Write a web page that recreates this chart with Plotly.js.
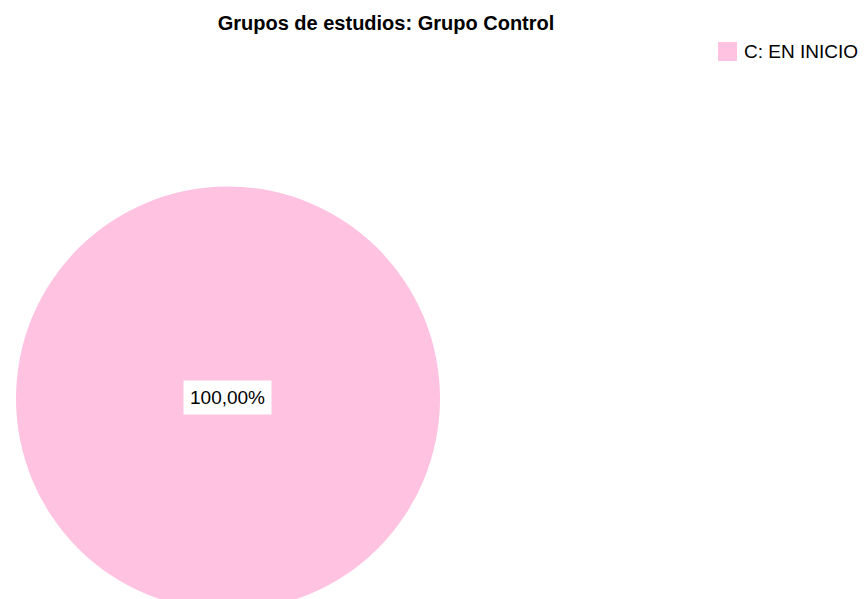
<!DOCTYPE html>
<html>
<head>
<meta charset="utf-8">
<script src="https://cdn.plot.ly/plotly-3.0.1.min.js"></script>
<style>
html, body { margin: 0; padding: 0; overflow: hidden; background: #ffffff; }
#chart { width: 865px; height: 620px; }
</style>
</head>
<body>
<div id="chart"></div>
<script>
const chartTitle = 'Grupos de estudios: Grupo Control';
const categories = ['C: EN INICIO'];
const values = [1];
const sliceColors = ['#FFC2E0'];

const W = 865, H = 620;
const cx = 228, cy = 398.5, r = 212;

const total = values.reduce((a, b) => a + b, 0);
const pctText = (values[0] / total * 100).toFixed(2).replace('.', ',') + '%';

const trace = {
  type: 'pie',
  labels: categories,
  values: values,
  marker: { colors: sliceColors, line: { width: 0 } },
  textinfo: 'none',
  hoverinfo: 'label+percent',
  sort: false,
  showlegend: false,
  domain: { x: [(cx - r) / W, (cx + r) / W], y: [(H - cy - r) / H, (H - cy + r) / H] }
};

// legend drawn as a layout shape + annotation so the swatch matches the original size
const legendShapes = categories.map((c, i) => ({
  type: 'rect', xref: 'paper', yref: 'paper',
  x0: 718 / W, x1: 737 / W,
  y0: (H - 61 - i * 24) / H, y1: (H - 42 - i * 24) / H,
  fillcolor: sliceColors[i], line: { width: 0 }
}));
const legendTexts = categories.map((c, i) => ({
  xref: 'paper', yref: 'paper',
  x: 742 / W, y: (H - 52 - i * 24) / H,
  xanchor: 'left', yanchor: 'middle',
  text: c, showarrow: false,
  font: { size: 19, color: '#000000' }
}));

const layout = {
  width: W,
  height: H,
  margin: { l: 0, r: 0, t: 0, b: 0 },
  paper_bgcolor: '#ffffff',
  separators: ',.',
  font: { family: 'Liberation Sans, Arial, sans-serif', color: '#000000' },
  title: {
    text: '<b>' + chartTitle + '</b>',
    font: { size: 20, family: 'Liberation Sans, Arial, sans-serif', color: '#000000' },
    x: 386 / W, xanchor: 'center', xref: 'paper',
    y: 1 - 22.5 / H, yanchor: 'middle', yref: 'container'
  },
  showlegend: false,
  shapes: legendShapes,
  annotations: [{
    xref: 'paper', yref: 'paper',
    x: cx / W, y: (H - 397.5) / H,
    xanchor: 'center', yanchor: 'middle',
    text: pctText,
    showarrow: false,
    bgcolor: '#ffffff',
    borderpad: 6,
    font: { size: 19, color: '#000000' }
  }].concat(legendTexts)
};

Plotly.newPlot('chart', [trace], layout, { displayModeBar: false, staticPlot: true });
</script>
</body>
</html>
